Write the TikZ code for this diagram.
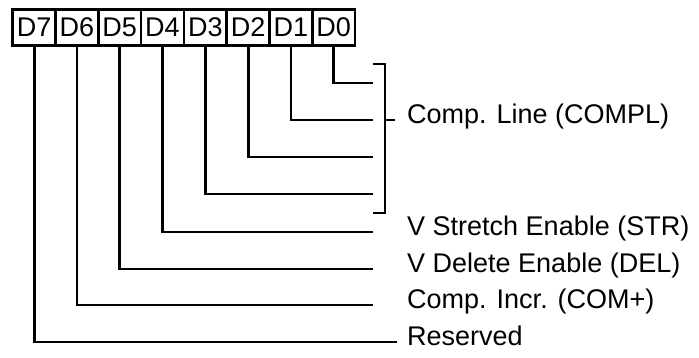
\documentclass[tikz,border=0pt]{standalone}
\usepackage{fontspec}
\setmainfont{Liberation Sans}
\usetikzlibrary{positioning,arrows.meta,calc}
\definecolor{ink}{HTML}{000000}

\begin{document}
\begin{tikzpicture}[x=1pt, y=-1pt, >=Latex,
    bitbox/.style={draw=ink, line width=2.6pt, minimum width=42.8pt, minimum height=36pt,
      inner sep=0pt, font=\fontsize{27}{27}\selectfont},
    wire/.style={ink, line width=2.8pt},
    fieldlabel/.style={anchor=west, inner sep=0pt, text height=0.72em, text depth=0pt,
      font=\fontsize{27}{27}\selectfont}]
  \useasboundingbox (0,0) rectangle (699,357);
  % register bits, D7 on the left
  \foreach \b [count=\i from 0] in {7,6,5,4,3,2,1,0}
    \node[bitbox] (d\b) at ({12.7+42.8*(\i+0.5)},27.5) {D\b};
  % field names
  \node[fieldlabel] (compl) at (407,120) {Comp. Line (COMPL)};
  \node[fieldlabel] (str) at (407,232) {V Stretch Enable (STR)};
  \node[fieldlabel] (del) at (407,269) {V Delete Enable (DEL)};
  \node[fieldlabel] (com) at (407,305) {Comp. Incr. (COM+)};
  \node[fieldlabel] (res) at (407,342) {Reserved};
  % line ends
  \foreach \b/\y in {0/83,1/120,2/157,3/194,4/232,5/269,6/305}
    \coordinate (e\b) at (373,\y);
  \coordinate (e7) at (397,342);
  \foreach \b in {0,...,7}
    \draw[wire] (d\b.south) |- (e\b);
  % bracket for D0..D3
  \coordinate (brtop) at (373,64);
  \coordinate (brbot) at (373,213);
  \coordinate (brmid) at (385,120);
  \draw[wire] (brtop) -- ++(12,0) |- (brbot);
  \draw[wire] (brmid) -- ++(10,0);
\end{tikzpicture}
\end{document}
